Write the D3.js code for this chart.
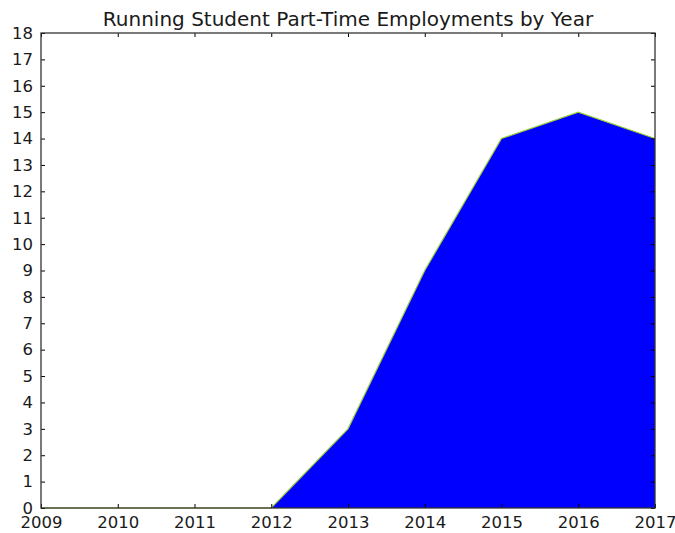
<!DOCTYPE html>
<html><head><meta charset="utf-8">
<script src="https://cdn.jsdelivr.net/npm/d3@7"></script>
<style>body{margin:0;background:#fff}svg{display:block}text{font-family:"DejaVu Sans",sans-serif;fill:#1a1a1a}</style>
</head><body>
<svg id="c" width="675" height="533"></svg>
<script>
const years = [2009, 2010, 2011, 2012, 2013, 2014, 2015, 2016, 2017];
const employments = [0, 0, 0, 0, 3, 9, 14, 15, 14];
const yTicks = d3.range(0, 19);
const title = "Running Student Part-Time Employments by Year";

const W = 675, H = 533;
const m = {l: 41, r: 20, t: 33, b: 25};
const svg = d3.select("#c");
const x = d3.scaleLinear().domain([2009, 2017]).range([m.l, W - m.r]);
const y = d3.scaleLinear().domain([0, 18]).range([H - m.b, m.t]);
const data = years.map((d, i) => ({year: d, v: employments[i]}));

svg.append("path").datum(data)
  .attr("d", d3.area().x(d => x(d.year)).y0(y(0)).y1(d => y(d.v)))
  .attr("fill", "#0000ff");
svg.append("path").datum(data)
  .attr("d", d3.line().x(d => x(d.year)).y(d => y(d.v)))
  .attr("fill", "none").attr("stroke", "#9acd32").attr("stroke-width", 1.2);

const tl = 4;
svg.append("g").attr("transform", `translate(0,${y(0)})`)
  .call(d3.axisBottom(x).tickValues(years).tickFormat(d3.format("d")).tickSizeInner(-tl).tickSizeOuter(0).tickPadding(8))
  .call(g => g.selectAll("text").attr("font-size", 16.5));
svg.append("g").attr("transform", `translate(0,${y(18)})`)
  .call(d3.axisTop(x).tickValues(years).tickFormat("").tickSizeInner(-tl).tickSizeOuter(0));
svg.append("g").attr("transform", `translate(${x(2009)},0)`)
  .call(d3.axisLeft(y).tickValues(yTicks).tickFormat(d3.format("d")).tickSizeInner(-tl).tickSizeOuter(0).tickPadding(8))
  .call(g => g.selectAll("text").attr("font-size", 16.5));
svg.append("g").attr("transform", `translate(${x(2017)},0)`)
  .call(d3.axisRight(y).tickValues(yTicks).tickFormat("").tickSizeInner(-tl).tickSizeOuter(0));
svg.selectAll(".domain").remove();
svg.selectAll(".tick line").attr("stroke", "#000");
svg.selectAll(".tick text").attr("fill", "#1a1a1a");
svg.append("rect").attr("x", x(2009)).attr("y", y(18))
  .attr("width", x(2017) - x(2009)).attr("height", y(0) - y(18))
  .attr("fill", "none").attr("stroke", "#333").attr("stroke-width", 1.3);

svg.append("text").attr("x", (x(2009) + x(2017)) / 2).attr("y", 26)
  .attr("text-anchor", "middle").attr("font-size", 20).text(title);
</script>
</body></html>
